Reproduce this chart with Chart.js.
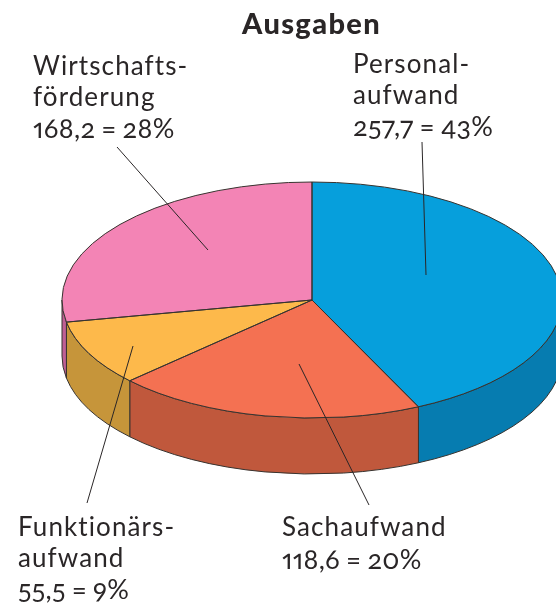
<!DOCTYPE html>
<html lang="de">
<head>
<meta charset="utf-8">
<title>Ausgaben</title>
<script src="https://cdn.jsdelivr.net/npm/chart.js@4"></script>
<style>
    html, body { margin: 0; padding: 0; background: #fff; }
    #wrap { position: relative; width: 556px; height: 606px; overflow: hidden; }
    canvas { position: absolute; left: 0; top: 0; }
    .lbl {
        position: absolute;
        font-family: Lato, "Open Sans", sans-serif;
        font-size: 26px;
        line-height: 30.5px;
        letter-spacing: 1.1px;
        color: #2a2627;
        white-space: pre;
    }
    .num {
        display: block;
        position: relative;
        top: 2px;
        font-size: 27px;
        letter-spacing: 0.3px;
        word-spacing: -1px;
        font-feature-settings: "onum" 1, "pnum" 1;
    }
    #title { font-weight: 900; font-size: 29px; letter-spacing: 1.4px; }
</style>
</head>
<body>
<div id="wrap">
    <canvas id="pie" width="556" height="606"></canvas>
    <div id="title" class="lbl" style="left:242px;top:8px"></div>
</div>
<script>
const chartTitle = 'Ausgaben';
const categories = ['Personalaufwand', 'Sachaufwand', 'Funktionärsaufwand', 'Wirtschaftsförderung'];
const labelLines = [['Personal-', 'aufwand'], ['Sachaufwand'], ['Funktionärs-', 'aufwand'], ['Wirtschafts-', 'förderung']];
const amounts = [257.7, 118.6, 55.5, 168.2];
const percents = [43, 20, 9, 28];
const topColors = ['#069fdc', '#f47152', '#fdb94b', '#f384b5'];
const wallColors = ['#067cb0', '#c0583c', '#c6953a', '#bf5f94'];

// where the labels sit and where their leader lines run
const labelPos = [[353, 48], [282, 511], [18, 511], [33, 50]];
const leaders = [[422, 142, 426, 275], [369, 505, 299, 364], [87, 503, 133, 346], [117, 147, 208, 250]];

const radiusX = 250, radiusY = 118, depth = 56;
const lineColor = '#37332f';

document.getElementById('title').textContent = chartTitle;
categories.forEach((name, i) => {
    const div = document.createElement('div');
    div.className = 'lbl';
    div.style.left = labelPos[i][0] + 'px';
    div.style.top = labelPos[i][1] + 'px';
    div.textContent = labelLines[i].join('\n');
    const num = document.createElement('span');
    num.className = 'num';
    num.textContent = amounts[i].toFixed(1).replace('.', ',') + ' = ' + percents[i] + '%';
    div.appendChild(num);
    document.getElementById('wrap').appendChild(div);
});

// Tilts the flat pie into an ellipse and adds the side wall
const tiltPlugin = {
    id: 'tilt',
    beforeDatasetsDraw(chart) {
        const ctx = chart.ctx;
        const arcs = chart.getDatasetMeta(0).data;
        arcs.forEach((arc, i) => {
            const a0 = Math.max(arc.startAngle, 0);
            const a1 = Math.min(arc.endAngle, Math.PI);
            if (a1 <= a0) return;
            ctx.beginPath();
            ctx.ellipse(arc.x, arc.y, radiusX, radiusY, 0, a0, a1);
            ctx.ellipse(arc.x, arc.y + depth, radiusX, radiusY, 0, a1, a0, true);
            ctx.closePath();
            ctx.fillStyle = wallColors[i];
            ctx.fill();
            ctx.strokeStyle = lineColor;
            ctx.lineWidth = 1;
            ctx.stroke();
        });
        const first = arcs[0];
        ctx.save();
        ctx.translate(first.x, first.y);
        ctx.scale(1, radiusY / radiusX);
        ctx.translate(-first.x, -first.y);
    },
    afterDatasetsDraw(chart) {
        const ctx = chart.ctx;
        ctx.restore();
        chart.getDatasetMeta(0).data.forEach(arc => {
            ctx.beginPath();
            ctx.moveTo(arc.x, arc.y);
            ctx.ellipse(arc.x, arc.y, radiusX, radiusY, 0, arc.startAngle, arc.endAngle);
            ctx.closePath();
            ctx.strokeStyle = lineColor;
            ctx.lineWidth = 1;
            ctx.stroke();
        });
        leaders.forEach(l => {
            ctx.beginPath();
            ctx.moveTo(l[0], l[1]);
            ctx.lineTo(l[2], l[3]);
            ctx.strokeStyle = '#2a2627';
            ctx.lineWidth = 1;
            ctx.stroke();
        });
    }
};

new Chart(document.getElementById('pie').getContext('2d'), {
    type: 'pie',
    data: {
        labels: categories,
        datasets: [{
            // the slices in the picture follow the rounded percentages
            data: percents,
            backgroundColor: topColors,
            borderWidth: 0,
            clip: false,
            radius: radiusX
        }]
    },
    options: {
        responsive: false,
        animation: false,
        layout: { padding: { left: 68, right: 0, top: 0, bottom: 6 } },
        plugins: { legend: { display: false }, tooltip: { enabled: false } }
    },
    plugins: [tiltPlugin]
});
</script>
</body>
</html>
